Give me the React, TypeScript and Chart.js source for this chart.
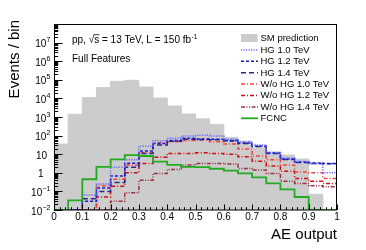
import React, { useEffect, useRef } from 'react';
import { Chart, registerables } from 'chart.js';

Chart.register(...registerables);

// ---- data ----
const binLow = [0, 0.05, 0.1, 0.15, 0.2, 0.25, 0.3, 0.35, 0.4, 0.45, 0.5, 0.55, 0.6, 0.65, 0.7, 0.75, 0.8, 0.85, 0.9, 0.95];
const binEnd = 1;

const smPrediction = [35, 1400, 11000, 38000, 83000, 94000, 41000, 10500, 3900, 1450, 800, 400, 77, 47, 22, 13, 9, 5.5, 0.07, 0];
const hg10 = [0, 0, 0.065, 0.25, 2.0, 5, 27, 53, 71, 95, 104, 95, 65, 48, 31, 12.5, 6.2, 4.0, 3.1, 1.0];
const hg12 = [0, 0, 0.03, 0.15, 0.68, 3.3, 15, 38, 55, 72, 66, 64, 55, 40, 28, 11.5, 5.6, 3.8, 3.4, 3.2];
const hg14 = [0, 0, 0.04, 0.1, 0.3, 2.0, 11, 31, 50, 64, 62, 60, 52, 38, 26, 11, 5.2, 3.6, 3.2, 3.1];
const wo10 = [0, 0, 0, 0.2, 0.45, 2.6, 12, 41, 47, 55, 58, 47, 35, 19, 8, 5, 2.6, 1.1, 1.0, 0.5];
const wo12 = [0, 0, 0, 0.05, 0.19, 1.0, 3.2, 6.8, 11, 11, 12, 11, 10, 7.3, 4.2, 2.3, 1.2, 0.5, 0.35, 0.27];
const wo14 = [0, 0, 0, 0, 0.03, 0.085, 0.4, 0.93, 1.5, 2.6, 3.2, 3.2, 3.0, 1.7, 1.4, 0.93, 0.35, 0.27, 0.2, 0.18];
const fcnc = [0, 0.033, 0.45, 2.1, 5.3, 9, 8, 4, 2.7, 2.1, 2.0, 1.65, 1.3, 0.93, 0.57, 0.27, 0.13, 0.05, 0, 0];

const xTickValues = [0, 0.1, 0.2, 0.3, 0.4, 0.5, 0.6, 0.7, 0.8, 0.9, 1];
const xTickLabels = ['0', '0.1', '0.2', '0.3', '0.4', '0.5', '0.6', '0.7', '0.8', '0.9', '1'];
const yTickExponents = [-2, -1, 0, 1, 2, 3, 4, 5, 6, 7];

const Y_MIN = 0.01;
const Y_MAX = 1e8;
const FONT = '"Liberation Sans", Arial, Helvetica, sans-serif';

function stepPoints(vals: number[]) {
  const pts = binLow.map((x, i) => ({ x, y: Math.max(vals[i], Y_MIN) }));
  pts.push({ x: binEnd, y: Math.max(vals[vals.length - 1], Y_MIN) });
  return pts;
}

const rootPlugin = {
  id: 'rootStyle',
  afterDatasetsDraw(chart: any) {
    const { ctx, chartArea: a, scales } = chart;
    const xs = scales.x;
    const ys = scales.y;
    ctx.save();

    // frame
    ctx.strokeStyle = '#000';
    ctx.lineWidth = 1;
    ctx.setLineDash([]);
    ctx.strokeRect(a.left + 0.5, a.top + 0.5, a.right - a.left - 1, a.bottom - a.top - 0.5);

    // x ticks (inside)
    ctx.beginPath();
    for (let i = 0; i <= 50; i++) {
      const v = i * 0.02;
      const px = Math.round(xs.getPixelForValue(v)) + 0.5;
      const len = i % 5 === 0 ? 5.5 : 2.8;
      ctx.moveTo(px, a.bottom);
      ctx.lineTo(px, a.bottom - len);
    }
    // y ticks (inside)
    for (let e = -2; e <= 7; e++) {
      for (let m = 1; m <= 9; m++) {
        const v = m * Math.pow(10, e);
        const py = Math.round(ys.getPixelForValue(v)) + 0.5;
        const len = m === 1 ? 8.5 : 4.2;
        ctx.moveTo(a.left, py);
        ctx.lineTo(a.left + len, py);
      }
    }
    ctx.stroke();

    // x tick labels
    ctx.fillStyle = '#000';
    ctx.font = `10px ${FONT}`;
    ctx.textAlign = 'center';
    ctx.textBaseline = 'alphabetic';
    xTickValues.forEach((v, i) => {
      ctx.fillText(xTickLabels[i], xs.getPixelForValue(v), 220);
    });

    // y tick labels
    yTickExponents.forEach((e) => {
      const py = ys.getPixelForValue(Math.pow(10, e));
      ctx.textAlign = 'right';
      if (e === 0) {
        ctx.font = `10px ${FONT}`;
        ctx.fillText('1', 43.5, py + 4.5);
      } else if (e === 1) {
        ctx.font = `10px ${FONT}`;
        ctx.fillText('10', 47, py + 4.5);
      } else {
        ctx.font = `7px ${FONT}`;
        const ex = e < 0 ? '\u2212' + String(-e) : String(e);
        const w = ctx.measureText(ex).width;
        ctx.fillText(ex, 50.5, py - 0.5);
        ctx.font = `10px ${FONT}`;
        ctx.fillText('10', 50.5 - w - 0.3, py + 4.5);
      }
    });

    // axis titles
    ctx.font = `15px ${FONT}`;
    ctx.textAlign = 'right';
    ctx.fillText('AE output', a.right, 239);
    ctx.save();
    ctx.translate(18.5, 20);
    ctx.rotate(-Math.PI / 2);
    ctx.textAlign = 'right';
    ctx.fillText('Events / bin', 0, 0);
    ctx.restore();

    // annotation text
    ctx.textAlign = 'left';
    ctx.font = `10px ${FONT}`;
    let x = 72;
    const by = 43;
    const part1 = 'pp, ';
    ctx.fillText(part1, x, by);
    x += ctx.measureText(part1).width;
    ctx.fillText('\u221A', x, by);
    const rw = ctx.measureText('\u221A').width;
    x += rw;
    const sw = ctx.measureText('s').width;
    ctx.fillText('s', x, by);
    ctx.beginPath();
    ctx.lineWidth = 0.8;
    ctx.moveTo(x - 0.5, by - 8.3);
    ctx.lineTo(x + sw + 0.3, by - 8.3);
    ctx.stroke();
    x += sw;
    const part2 = ' = 13 TeV, L = 150 fb';
    ctx.fillText(part2, x, by);
    x += ctx.measureText(part2).width;
    ctx.font = `6.5px ${FONT}`;
    ctx.fillText('-1', x + 0.5, by - 4.5);
    ctx.font = `10px ${FONT}`;
    ctx.fillText('Full Features', 72, 62);

    // legend
    const datasets = chart.data.datasets;
    ctx.font = `9.5px ${FONT}`;
    datasets.forEach((ds: any, i: number) => {
      const cy = 38 + i * 11.4;
      if (ds.fill) {
        ctx.fillStyle = ds.backgroundColor;
        ctx.fillRect(241, cy - 4, 16.5, 8);
      } else {
        ctx.beginPath();
        ctx.strokeStyle = ds.borderColor;
        ctx.lineWidth = ds.borderWidth;
        ctx.setLineDash(ds.borderDash || []);
        ctx.moveTo(241, cy + 0.5);
        ctx.lineTo(258, cy + 0.5);
        ctx.stroke();
        ctx.setLineDash([]);
      }
      ctx.fillStyle = '#000';
      ctx.textAlign = 'left';
      ctx.fillText(ds.label, 260.5, cy + 3.4);
    });

    ctx.restore();
  },
};

export default function App() {
  const ref = useRef<HTMLCanvasElement | null>(null);

  useEffect(() => {
    if (!ref.current) return;
    const line = (label: string, vals: number[], color: string, dash: number[], width: number, order: number) => ({
      label,
      data: stepPoints(vals),
      borderColor: color,
      backgroundColor: color,
      borderWidth: width,
      borderDash: dash,
      stepped: 'before' as const,
      fill: false,
      pointRadius: 0,
      order,
    });
    const chart = new Chart(ref.current, {
      type: 'line',
      data: {
        datasets: [
          {
            label: 'SM prediction',
            data: stepPoints(smPrediction),
            borderColor: '#cccccc',
            backgroundColor: '#cccccc',
            borderWidth: 1,
            stepped: 'before',
            fill: 'start',
            pointRadius: 0,
            order: 10,
          },
          line('HG 1.0 TeV', hg10, '#6a6aff', [1.2, 1.3], 1.5, 1),
          line('HG 1.2 TeV', hg12, '#1a1acc', [3, 2], 1.5, 2),
          line('HG 1.4 TeV', hg14, '#2a2a88', [5, 3], 1.5, 3),
          line('W/o HG 1.0 TeV', wo10, '#ee4444', [4, 2, 1, 2], 1.5, 4),
          line('W/o HG 1.2 TeV', wo12, '#cc1111', [4, 2, 1, 2], 1.5, 5),
          line('W/o HG 1.4 TeV', wo14, '#993344', [4, 1.5, 1, 1.5, 1, 1.5], 1.5, 6),
          line('FCNC', fcnc, '#22aa22', [], 1.8, 0),
        ] as any,
      },
      options: {
        responsive: false,
        animation: false,
        devicePixelRatio: 1,
        layout: { padding: { left: 54, right: 29, top: 24, bottom: 40 } },
        scales: {
          x: { type: 'linear', min: 0, max: 1, display: false },
          y: { type: 'logarithmic', min: Y_MIN, max: Y_MAX, display: false },
        },
        plugins: { legend: { display: false }, tooltip: { enabled: false } },
        elements: { point: { radius: 0 }, line: { tension: 0 } },
      },
      plugins: [rootPlugin],
    });
    return () => chart.destroy();
  }, []);

  return (
    <div style={{ position: 'absolute', left: 0, top: 0, width: 366, height: 250, background: '#fff' }}>
      <canvas ref={ref} width={366} height={250} style={{ display: 'block' }} />
    </div>
  );
}
